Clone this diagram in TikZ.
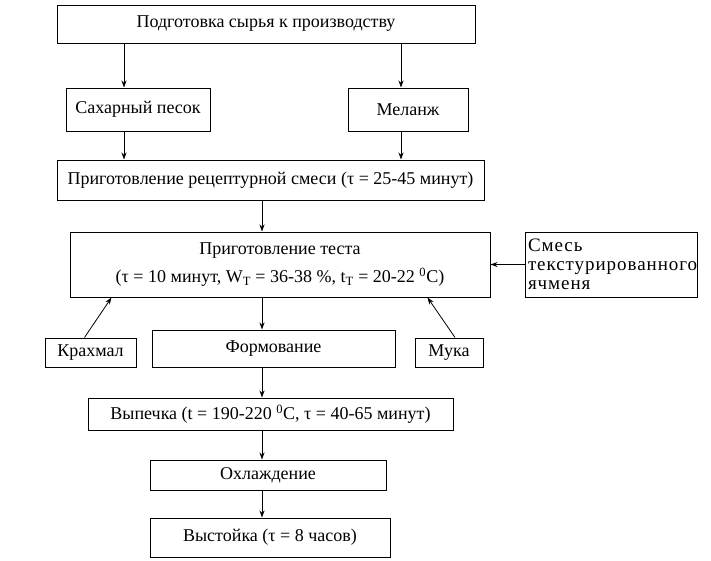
\documentclass[tikz,border=0pt]{standalone}
\usepackage{fontspec}
\setmainfont{Liberation Serif}
\usetikzlibrary{arrows.meta,calc}
\begin{document}
\begin{tikzpicture}[x=1pt,y=-1pt,
  box/.style={draw,line width=1pt,inner sep=0pt,font=\fontsize{18}{20}\selectfont},
  arr/.style={-{Stealth[length=7pt,width=5pt]},line width=0.8pt}]
\useasboundingbox (0,0) rectangle (711,560);
\node[box,minimum width=418pt,minimum height=38pt] (top) at (266,24) {Подготовка сырья к производству};
\node[box,minimum width=144pt,minimum height=43pt] (sp) at (138,109.5) {Сахарный песок};
\node[box,minimum width=120pt,minimum height=43pt] (mel) at (408,109.5) {Меланж};
\node[box,minimum width=427pt,minimum height=40pt] (rec) at (270.5,180) {Приготовление рецептурной смеси (τ = 25-45 минут)};
\node[box,minimum width=420pt,minimum height=65pt,align=center,font=\fontsize{18}{28}\selectfont] (teig) at (280,264.5) {Приготовление теста\\(τ = 10 минут, W\textsubscript{Т} = 36-38 \%, t\textsubscript{Т} = 20-22 \textsuperscript{0}C)};
\node[box,minimum width=172pt,minimum height=65pt,align=left,text width=166pt,font=\fontsize{19}{19}\selectfont\addfontfeature{LetterSpace=5}] (mix) at (611,264.5) {Смесь\\текстурированного\\ячменя};
\node[box,minimum width=91pt,minimum height=29pt] (kr) at (90.5,352.5) {Крахмал};
\node[box,minimum width=68pt,minimum height=29pt] (muka) at (449,352.5) {Мука};
\node[box,minimum width=243pt,minimum height=37pt] (form) at (273.5,348.5) {Формование};
\node[box,minimum width=365pt,minimum height=32pt] (vyp) at (270.5,414) {Выпечка (t = 190-220 \textsuperscript{0}C, τ = 40-65 минут)};
\node[box,minimum width=236pt,minimum height=30pt] (okh) at (268,475) {Охлаждение};
\node[box,minimum width=240pt,minimum height=39pt] (vys) at (270,537.5) {Выстойка (τ = 8 часов)};
\coordinate (xl) at (124,0);
\coordinate (xr) at (401,0);
\coordinate (xc) at (262,0);
\draw[arr] (xl |- top.south) -- (xl |- sp.north);
\draw[arr] (xr |- top.south) -- (xr |- mel.north);
\draw[arr] (xl |- sp.south) -- (xl |- rec.north);
\draw[arr] (xr |- mel.south) -- (xr |- rec.north);
\draw[arr] (xc |- rec.south) -- (xc |- teig.north);
\draw[arr] (mix.west) -- (teig.east);
\draw[arr] (xc |- teig.south) -- (xc |- form.north);
\draw[arr] (xc |- form.south) -- (xc |- vyp.north);
\draw[arr] (xc |- vyp.south) -- (xc |- okh.north);
\draw[arr] (xc |- okh.south) -- (xc |- vys.north);
\draw[arr] ($(kr.north)+(-6,0)$) -- ($(teig.south west)+(42,0)$);
\draw[arr] ($(muka.north)+(6,0)$) -- ($(teig.south east)+(-63,0)$);
\end{tikzpicture}
\end{document}
